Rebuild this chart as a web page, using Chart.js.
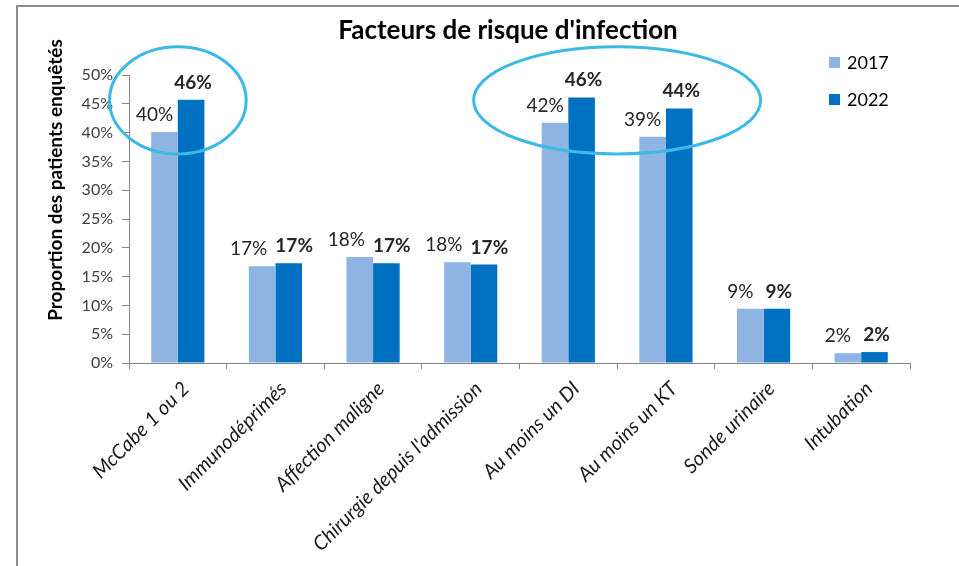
<!DOCTYPE html>
<html>
<head>
<meta charset="utf-8">
<script src="https://cdn.jsdelivr.net/npm/chart.js@4"></script>
<style>
  body { margin: 0; background: #fff; }
  #frame { position: absolute; left: 16px; top: 5px; width: 1000px; height: 600px;
           border-left: 2px solid #8c8c8c; border-top: 2px solid #8c8c8c; }
  #wrap { position: absolute; left: 0; top: 0; width: 959px; height: 566px; }
</style>
</head>
<body>
<div id="frame"></div>
<div id="wrap"><canvas id="chart"></canvas></div>
<script>
const categories = ["McCabe 1 ou 2", "Immunodéprimés", "Affection maligne", "Chirurgie depuis l'admission",
  "Au moins un DI", "Au moins un KT", "Sonde urinaire", "Intubation"];
const values2017 = [40.1, 16.8, 18.4, 17.5, 41.7, 39.3, 9.4, 1.7];
const values2022 = [45.7, 17.3, 17.3, 17.1, 46.1, 44.2, 9.4, 1.9];
// labels as printed on the chart (rounded)
const labels2017 = ["40%", "17%", "18%", "18%", "42%", "39%", "9%", "2%"];
const labels2022 = ["46%", "17%", "17%", "17%", "46%", "44%", "9%", "2%"];
const yTicks = [0, 5, 10, 15, 20, 25, 30, 35, 40, 45, 50];
// circled groups: center category index, half width in categories, value range
const highlights = [
  { center: 0, half: 0.7, top: 54.9, bottom: 36.3 },
  { center: 4.5, half: 1.47, top: 54.9, bottom: 36.3 }
];

const FONT = "Lato, 'Open Sans', sans-serif";

// title, y title, legend, value labels and ellipses
const extras = {
  id: "extras",
  afterDatasetsDraw(chart) {
    const ctx = chart.ctx;
    const x = chart.scales.x, y = chart.scales.y;

    // value labels above bars, pushed apart when they would touch
    ctx.save();
    ctx.textAlign = "center";
    ctx.textBaseline = "alphabetic";
    ctx.fillStyle = "#262626";
    const barsA = chart.getDatasetMeta(0).data, barsB = chart.getDatasetMeta(1).data;
    const fontA = "19px " + FONT, fontB = "bold 19px " + FONT;
    barsA.forEach((a, i) => {
      const b = barsB[i];
      ctx.font = fontA;
      const wA = ctx.measureText(labels2017[i]).width;
      ctx.font = fontB;
      const wB = ctx.measureText(labels2022[i]).width;
      let xa = a.x - 10, xb = b.x + 2;
      if (Math.abs(a.y - b.y) < 14) {
        const gap = (xb - wB / 2) - (xa + wA / 2);
        if (gap < 8) { xa -= (8 - gap) / 2; xb += (8 - gap) / 2; }
      }
      ctx.font = fontA;
      ctx.fillText(labels2017[i], xa, a.y - 11);
      ctx.font = fontB;
      ctx.fillText(labels2022[i], xb, b.y - 11);
    });
    ctx.restore();

    // ellipses
    const step = x.getPixelForValue(1) - x.getPixelForValue(0);
    ctx.save();
    ctx.strokeStyle = "#3DB9E6";
    ctx.lineWidth = 3;
    highlights.forEach(h => {
      const cx = x.getPixelForValue(0) + h.center * step;
      const top = y.getPixelForValue(h.top), bottom = y.getPixelForValue(h.bottom);
      ctx.beginPath();
      ctx.ellipse(cx, (top + bottom) / 2, h.half * step, (bottom - top) / 2, 0, 0, Math.PI * 2);
      ctx.stroke();
    });
    ctx.restore();

    // title
    ctx.save();
    ctx.fillStyle = "#000";
    ctx.textAlign = "center";
    ctx.textBaseline = "middle";
    ctx.font = "bold 26px " + FONT;
    ctx.fillText("Facteurs de risque d'infection", 508, 31);

    // y axis title
    ctx.translate(56, 180);
    ctx.rotate(-Math.PI / 2);
    ctx.font = "bold 19px " + FONT;
    ctx.fillText("Proportion des patients enquêtés", 0, 0);
    ctx.restore();

    // legend
    ctx.save();
    ctx.font = "18px " + FONT;
    ctx.textBaseline = "middle";
    chart.data.datasets.forEach((ds, i) => {
      const ly = 62 + i * 37;
      ctx.fillStyle = ds.backgroundColor;
      ctx.fillRect(829, ly - 5, 11, 11);
      ctx.fillStyle = "#000";
      ctx.fillText(ds.label, 847, ly + 1);
    });
    ctx.restore();
  }
};

new Chart(document.getElementById("chart"), {
  type: "bar",
  data: {
    labels: categories,
    datasets: [
      { label: "2017", data: values2017, backgroundColor: "#8EB4E3" },
      { label: "2022", data: values2022, backgroundColor: "#0070C0" }
    ]
  },
  options: {
    responsive: true,
    maintainAspectRatio: false,
    animation: false,
    layout: { padding: { left: 0, right: 49, top: 75, bottom: 0 } },
    categoryPercentage: 0.545,
    barPercentage: 1,
    plugins: { legend: { display: false }, tooltip: { enabled: false } },
    scales: {
      x: {
        afterFit(s) { s.height = 203; },
        grid: { drawOnChartArea: false, offset: true, tickLength: 6, color: "#868686" },
        border: { color: "#868686" },
        ticks: { minRotation: 45, maxRotation: 45, color: "#1a1a1a", padding: 8, labelOffset: 8,
                 font: { family: FONT, size: 20, style: "italic" } }
      },
      y: {
        min: 0, max: 50,
        afterFit(s) { s.width = 129; },
        afterBuildTicks(s) { s.ticks = yTicks.map(v => ({ value: v })); },
        grid: { drawOnChartArea: false, tickLength: 7, color: "#868686" },
        border: { color: "#868686" },
        ticks: { color: "#404040", padding: 9, font: { family: FONT, size: 16 },
                 callback: v => v + "%" }
      }
    }
  },
  plugins: [extras]
});
</script>
</body>
</html>
